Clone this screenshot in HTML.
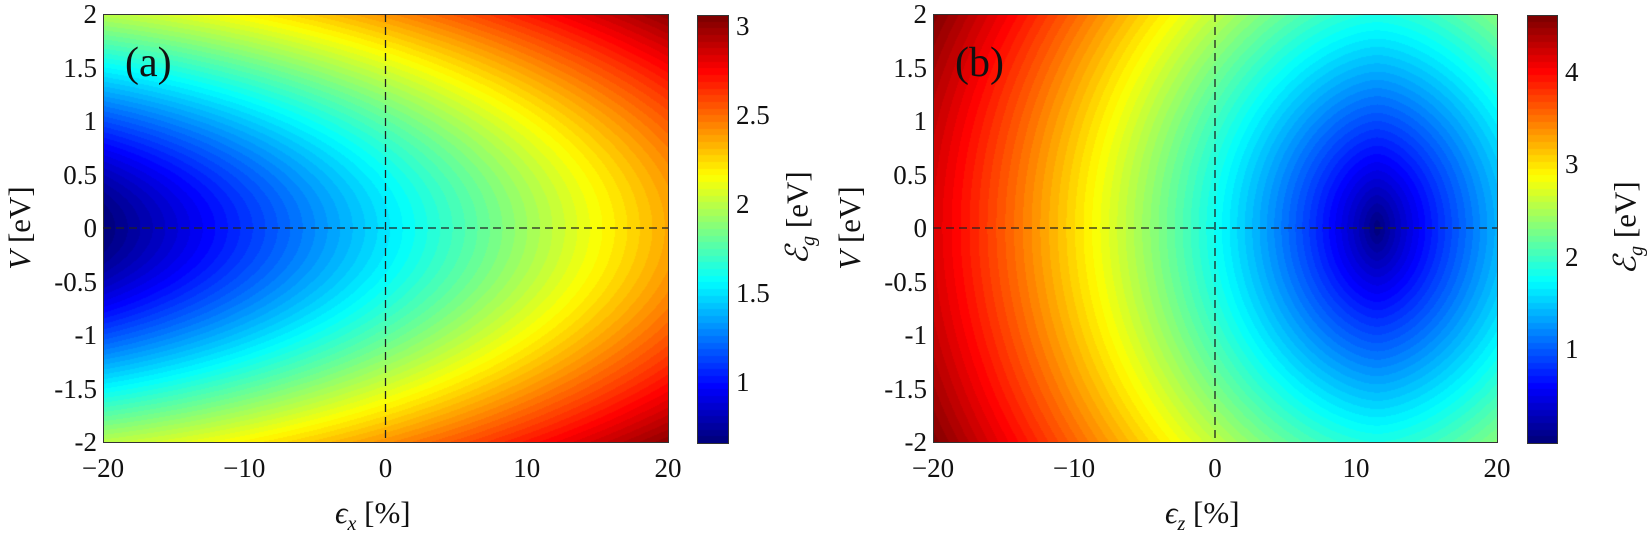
<!DOCTYPE html>
<html><head><meta charset="utf-8"><style>
body{margin:0;background:#fff;width:1652px;height:535px;overflow:hidden;position:relative;font-family:"Liberation Serif",serif;color:#111}
canvas{position:absolute}
.t{position:absolute;font-size:27px;line-height:1;white-space:nowrap}
.r{text-align:right;width:80px}
.c{text-align:center;width:100px}
.rot{position:absolute;transform:translate(-50%,-50%) rotate(-90deg);white-space:nowrap;font-size:31px}
.frame{position:absolute;border:1px solid #333;box-sizing:border-box}
</style></head><body>
<canvas id="ca" width="565" height="428" style="left:103px;top:14px"></canvas>
<canvas id="cb" width="564" height="428" style="left:933px;top:14px"></canvas>
<canvas id="ka" width="31" height="428" style="left:697px;top:15px"></canvas>
<canvas id="kb" width="30" height="428" style="left:1527px;top:15px"></canvas>
<div class="frame" style="left:103px;top:14px;width:566px;height:429px"></div>
<div class="frame" style="left:933px;top:14px;width:565px;height:429px"></div>
<div class="frame" style="left:697px;top:15px;width:32px;height:429px"></div>
<div class="frame" style="left:1527px;top:15px;width:31px;height:429px"></div>
<svg width="1652" height="535" style="position:absolute;left:0;top:0">
<g stroke="#222" stroke-width="1.3" stroke-dasharray="8,5">
<line x1="385.5" y1="14" x2="385.5" y2="442"/><line x1="103" y1="228" x2="668" y2="228"/>
<line x1="1215" y1="14" x2="1215" y2="442"/><line x1="933" y1="228" x2="1497" y2="228"/>
</g></svg>
<div class="t" style="left:125px;top:42px;font-size:42px">(a)</div>
<div class="t" style="left:955px;top:42px;font-size:42px">(b)</div>
<div id="lab"></div>
<div class="rot" style="left:20px;top:228px"><i>V</i> [eV]</div>
<div class="rot" style="left:850px;top:228px"><i>V</i> [eV]</div>
<div class="rot" style="left:800px;top:218px"><i>ℰ<sub style="font-size:20px">g</sub></i> [eV]</div>
<div class="rot" style="left:1628px;top:228px"><i>ℰ<sub style="font-size:20px">g</sub></i> [eV]</div>
<div class="t" style="left:335px;top:497px;font-size:31px"><i>ϵ<sub style="font-size:20px">x</sub></i> [%]</div>
<div class="t" style="left:1165px;top:497px;font-size:31px"><i>ϵ<sub style="font-size:20px">z</sub></i> [%]</div>
<script>
function jet(t){t=Math.max(0,Math.min(1,t));t=Math.floor(t*63.999)/63;
 const f=x=>Math.round(255*Math.max(0,Math.min(1,1.5-Math.abs(x))));
 return [f(4*t-3),f(4*t-2),f(4*t-1)];}
function fa(e,V){const g=0.66+(e+20)*0.0426;return Math.sqrt(g*g+0.89*V*V);}
function fb(e,V){const d=Math.abs(e-11.5);const g=0.231*Math.pow(d,0.84);return Math.sqrt(g*g+0.88*V*V);}
function draw(id,f,lo,hi){const c=document.getElementById(id),x=c.getContext('2d'),W=c.width,H=c.height,im=x.createImageData(W,H);
 for(let j=0;j<H;j++)for(let i=0;i<W;i++){const e=-20+40*(i+.5)/W,V=2-4*(j+.5)/H;const col=jet((f(e,V)-lo)/(hi-lo));const k=4*(j*W+i);im.data[k]=col[0];im.data[k+1]=col[1];im.data[k+2]=col[2];im.data[k+3]=255;}
 x.putImageData(im,0,0);}
function bar(id){const c=document.getElementById(id),x=c.getContext('2d');for(let j=0;j<c.height;j++){const col=jet(1-(j+.5)/c.height);x.fillStyle=`rgb(${col})`;x.fillRect(0,j,c.width,1);}}
draw('ca',fa,0.66,3.07);draw('cb',fb,0.0,4.62);bar('ka');bar('kb');
let h='';const yv=['2','1.5','1','0.5','0','-0.5','-1','-1.5','-2'];
yv.forEach((s,k)=>{const y=14+k*53.5-13;h+=`<div class="t r" style="left:17px;top:${y}px">${s}</div><div class="t r" style="left:847px;top:${y}px">${s}</div>`;});
['−20','−10','0','10','20'].forEach((s,k)=>{h+=`<div class="t c" style="left:${103+k*141.25-50}px;top:455px">${s}</div><div class="t c" style="left:${933+k*141-50}px;top:455px">${s}</div>`;});
[[3,26],[2.5,115],[2,204],[1.5,293],[1,382]].forEach(([v,y])=>{h+=`<div class="t" style="left:736px;top:${y-13}px">${v}</div>`;});
[[4,72],[3,164],[2,257],[1,349]].forEach(([v,y])=>{h+=`<div class="t" style="left:1565px;top:${y-13}px">${v}</div>`;});
document.getElementById('lab').innerHTML=h;
</script>
</body></html>
